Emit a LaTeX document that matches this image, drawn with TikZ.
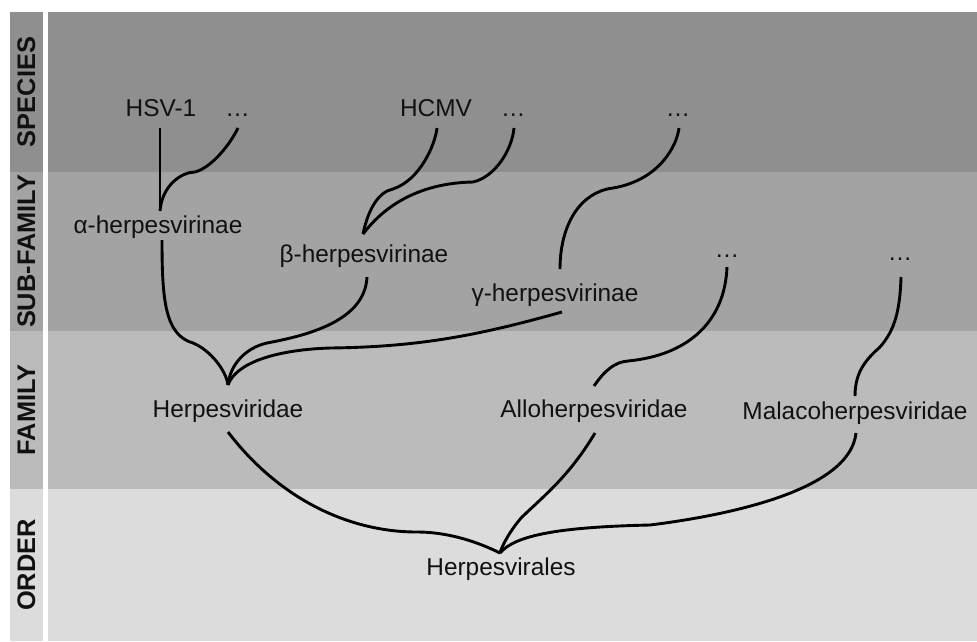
\documentclass[tikz,border=0pt]{standalone}
\usepackage{fontspec}
\setmainfont{Liberation Sans}
\definecolor{cSpec}{HTML}{8F8F8F}
\definecolor{cSub}{HTML}{A3A3A3}
\definecolor{cFam}{HTML}{BBBBBB}
\definecolor{cOrd}{HTML}{DCDCDC}
\definecolor{cTxt}{HTML}{111111}
\tikzset{
  lbl/.style={font=\fontsize{24.4}{28}\selectfont, inner sep=0pt, anchor=base, text=cTxt},
  rank/.style={font=\bfseries\fontsize{25.4}{28}\selectfont, rotate=90, inner sep=0pt, text=cTxt},
  edge/.style={line width=2.9pt, draw=black, line join=round}
}
\begin{document}
\begin{tikzpicture}[x=1pt,y=-1pt]
\useasboundingbox (0,0) rectangle (977,641);
\fill[white] (0,0) rectangle (977,641);
% bands
\fill[cSpec] (10,12) rectangle (43,172);  \fill[cSpec] (48,12) rectangle (977,172);
\fill[cSub]  (10,172) rectangle (43,331); \fill[cSub]  (48,172) rectangle (977,331);
\fill[cFam]  (10,331) rectangle (43,489); \fill[cFam]  (48,331) rectangle (977,489);
\fill[cOrd]  (10,489) rectangle (43,641); \fill[cOrd]  (48,489) rectangle (977,641);
% rank labels
\node[rank] (rSpec) at (26.5,92) {SPECIES};
\node[rank] (rSub)  at (26.5,251.5) {SUB-FAMILY};
\node[rank] (rFam)  at (26.5,410) {FAMILY};
\node[rank] (rOrd)  at (26.5,565) {ORDER};
% taxon labels
\node[lbl] (hsv)   at (161,116.7) {HSV-1};
\node[lbl] (dA)    at (237.5,116.7) {…};
\node[lbl] (hcmv)  at (436,116.7) {HCMV};
\node[lbl] (dB)    at (513.3,116.7) {…};
\node[lbl] (dC)    at (678,116.7) {…};
\node[lbl] (alpha) at (158,233.3) {α-herpesvirinae};
\node[lbl] (beta)  at (364,262.5) {β-herpesvirinae};
\node[lbl] (gamma) at (555,301) {γ-herpesvirinae};
\node[lbl] (dD)    at (727,257) {…};
\node[lbl] (dE)    at (900,260) {…};
\node[lbl] (herp)  at (228,417.3) {Herpesviridae};
\node[lbl] (allo)  at (594,417) {Alloherpesviridae};
\node[lbl] (mala)  at (855,419) {Malacoherpesviridae};
\node[lbl] (order) at (501,575.5) {Herpesvirales};
% connector points
\coordinate (hsvE) at (160,128);
\coordinate (dAE) at (238,128);
\coordinate (aTop) at (160,211);
\coordinate (kA) at (195,172);
\coordinate (aBot) at (162,240);
\coordinate (kB) at (193,343);
\coordinate (hTop) at (228,385);
\coordinate (bTop) at (363,234);
\coordinate (kC) at (393,189);
\coordinate (hcmvE) at (437,128);
\coordinate (kD) at (473,182);
\coordinate (dBE) at (514,128);
\coordinate (bBot) at (367,277);
\coordinate (kE) at (267,343);
\coordinate (gTop) at (560,269);
\coordinate (kF) at (613,188);
\coordinate (dCE) at (679,128);
\coordinate (gBot) at (562,312);
\coordinate (kG) at (330,348);
\coordinate (alTop) at (594,386);
\coordinate (kH) at (628,361);
\coordinate (dDE) at (727,267);
\coordinate (mTop) at (855,396);
\coordinate (kI) at (880,347);
\coordinate (dEE) at (901,277);
\coordinate (hBot) at (228,432);
\coordinate (alBot) at (595,433);
\coordinate (mBot) at (856,433);
\coordinate (oTop) at (500,553);
\coordinate (kJ) at (417,532);
\coordinate (kK) at (522,517);
\coordinate (kL) at (650,525);
% alpha group
\draw[edge] (aTop) -- (hsvE);
\draw[edge] (aTop) .. controls (162,185) and (182,172) .. (kA) .. controls (210,168) and (228,148) .. (dAE);
\draw[edge] (hTop) .. controls (226,370) and (210,350) .. (kB) .. controls (165,335) and (162,300) .. (aBot);
% beta group
\draw[edge] (bTop) .. controls (368,210) and (378,192) .. (kC) .. controls (420,180) and (435,145) .. (hcmvE);
\draw[edge] (bTop) .. controls (385,205) and (420,183) .. (kD) .. controls (495,177) and (512,150) .. (dBE);
\draw[edge] (hTop) .. controls (230,365) and (245,348) .. (kE) .. controls (310,335) and (365,320) .. (bBot);
% gamma group
\draw[edge] (gTop) .. controls (560,225) and (580,192) .. (kF) .. controls (660,180) and (677,145) .. (dCE);
\draw[edge] (hTop) .. controls (235,365) and (270,350) .. (kG) .. controls (420,347) and (480,335) .. (gBot);
% allo / malaco upward
\draw[edge] (alTop) .. controls (605,370) and (615,362) .. (kH) .. controls (690,355) and (725,320) .. (dDE);
\draw[edge] (mTop) .. controls (855,370) and (868,358) .. (kI) .. controls (895,330) and (900,310) .. (dEE);
% order
\draw[edge] (oTop) .. controls (480,543) and (450,532) .. (kJ) .. controls (350,532) and (280,500) .. (hBot);
\draw[edge] (oTop) .. controls (502,545) and (512,528) .. (kK) .. controls (545,495) and (570,475) .. (alBot);
\draw[edge] (oTop) .. controls (515,535) and (560,527) .. (kL) .. controls (730,515) and (850,490) .. (mBot);
\end{tikzpicture}
\end{document}
